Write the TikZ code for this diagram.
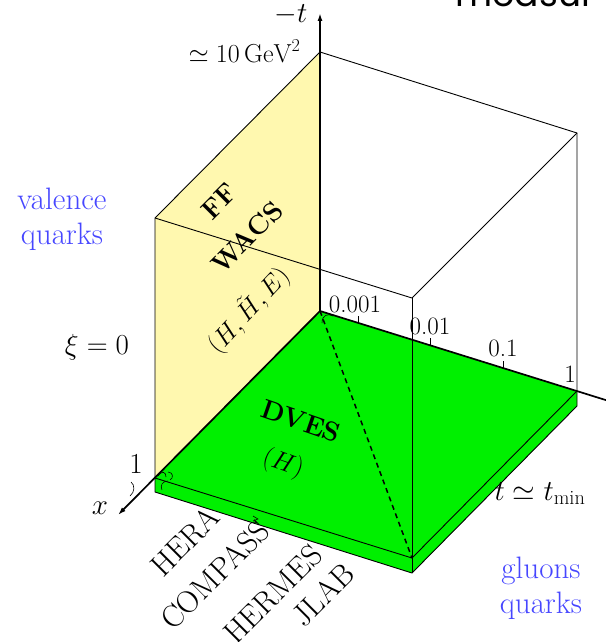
\documentclass[tikz,border=0pt]{standalone}
\usepackage{fix-cm}
\usepackage{fontspec}
\newfontfamily\popfont{Poppins}
\usetikzlibrary{arrows.meta}
\definecolor{facey}{RGB}{255,248,175}
\definecolor{floorg}{RGB}{0,240,0}
\definecolor{lblue}{RGB}{70,70,255}
\begin{document}
\begin{tikzpicture}[x=1pt,y=-1pt,
  axisline/.style={line width=1.7pt},
  edge/.style={line width=0.9pt},
  bigtxt/.style={font=\fontsize{29}{34}\selectfont},
  midtxt/.style={font=\fontsize{26}{30}\selectfont},
  ticktxt/.style={font=\fontsize{25}{28}\selectfont},
  boldlbl/.style={font=\fontsize{27}{30}\selectfont\bfseries},
  explbl/.style={font=\fontsize{31}{35}\selectfont, rotate=45},
  bluetxt/.style={font=\fontsize{31}{35}\selectfont, text=lblue, align=center},
  tip/.style={-{Latex[length=8pt,width=5pt]}}
]
\useasboundingbox (0,0) rectangle (605,642);

% corner coordinates
\coordinate (O) at (320,311);
\coordinate (A) at (155,478);
\coordinate (B) at (577,391);
\coordinate (C) at (412,558);
\coordinate (A2) at (155,492);
\coordinate (B2) at (577,406);
\coordinate (C2) at (412,573);
\coordinate (Ot) at (320,52);
\coordinate (At) at (155,218);
\coordinate (Bt) at (577,133);
\coordinate (Ct) at (412,298);
\coordinate (Ttip) at (320,13);
\coordinate (Xtip) at (118,515);
\coordinate (Rend) at (612,402);

% clipped heading fragment
\node[font=\popfont\fontsize{36}{40}\selectfont, anchor=base west] (hdr) at (452,7) {measur};

% yellow face
\fill[facey] (Ot) -- (At) -- (A) -- (O) -- cycle;

% cube edges
\draw[edge] (Ot) -- (At) -- (A);
\draw[edge] (Ot) -- (Bt) -- (B);
\draw[edge] (At) -- (Ct) -- (Bt);

% green slab
\fill[floorg] (O) -- (A) -- (A2) -- (C2) -- (B2) -- (B) -- cycle;
\draw[edge] (A) -- (C) -- (B);
\draw[edge] (A) -- (A2) -- (C2) -- (B2) -- (B);
\draw[edge] (C) -- (C2);
\draw[edge] (Ct) -- (C);

% dashed diagonal
\draw[line width=1.5pt, dash pattern=on 5pt off 4pt] (O) -- (C);

% axes
\draw[axisline, tip] (O) -- (Ttip);
\draw[axisline, tip] (O) -- (Xtip);
\draw[axisline] (O) -- (Rend);

% small curls
\draw[line width=0.6pt] (322,323) .. controls (322,315) and (328,313) .. (333,316);
\draw[line width=0.6pt] (158,476) .. controls (162,470) and (166,472) .. (166,477);
\draw[line width=0.6pt] (168,472) .. controls (173,472) and (174,478) .. (170,480);
\draw[line width=0.6pt] (168,481) .. controls (162,481) and (160,486) .. (162,490);
\draw[line width=0.6pt] (131,482) .. controls (135,485) and (135,492) .. (130,496);
\draw[line width=0.6pt] (253,516) -- (258,519) -- (253,521);

% ticks
\coordinate (t1) at (358,323);
\coordinate (t2) at (430,345);
\coordinate (t3) at (503,368);
\draw[edge] (t1) -- ++(0,-7);
\draw[edge] (t2) -- ++(0,-7);
\draw[edge] (t3) -- ++(0,-7);
\node[ticktxt, anchor=base] (l1) at (355,312) {0.001};
\node[ticktxt, anchor=base] (l2) at (430,334) {0.01};
\node[ticktxt, anchor=base] (l3) at (503,356) {0.1};
\node[ticktxt, anchor=base] (l4) at (570,382) {1};

% axis labels
\node[bigtxt, anchor=base] (mt) at (291,23) {$-t$};
\node[midtxt, anchor=base east] (gev) at (304,63) {$\simeq 10\,\mathrm{GeV}^2$};
\node[bigtxt, anchor=base] (xi) at (97,354) {$\xi=0$};
\node[bigtxt, anchor=base] (one) at (136,473) {1};
\node[bigtxt] (xl) at (100,508) {$x$};
\node[bigtxt, anchor=base] (tmin) at (540,500) {$t\simeq t_{\mathrm{min}}$};

% blue labels
\node[bluetxt] (val) at (62,219) {valence\\quarks};
\node[bluetxt] (glu) at (541,588) {gluons\\quarks};

% region labels
\node[boldlbl, rotate=45] (ff) at (219,201) {FF};
\node[boldlbl, rotate=45] (wacs) at (247,237) {WACS};
\node[midtxt, rotate=47] (hhe) at (248,310) {$(H,\tilde H,E)$};
\node[boldlbl, rotate=-19] (dves) at (301,421) {DVES};
\node[midtxt, rotate=-19] (hh) at (283,464) {$(H)$};

% experiments
\node[explbl] (hera) at (185,541) {HERA};
\node[explbl] (compass) at (215,575) {COMPASS};
\node[explbl] (hermes) at (273,594) {HERMES};
\node[explbl] (jlab) at (323,595) {JLAB};
\end{tikzpicture}
\end{document}
